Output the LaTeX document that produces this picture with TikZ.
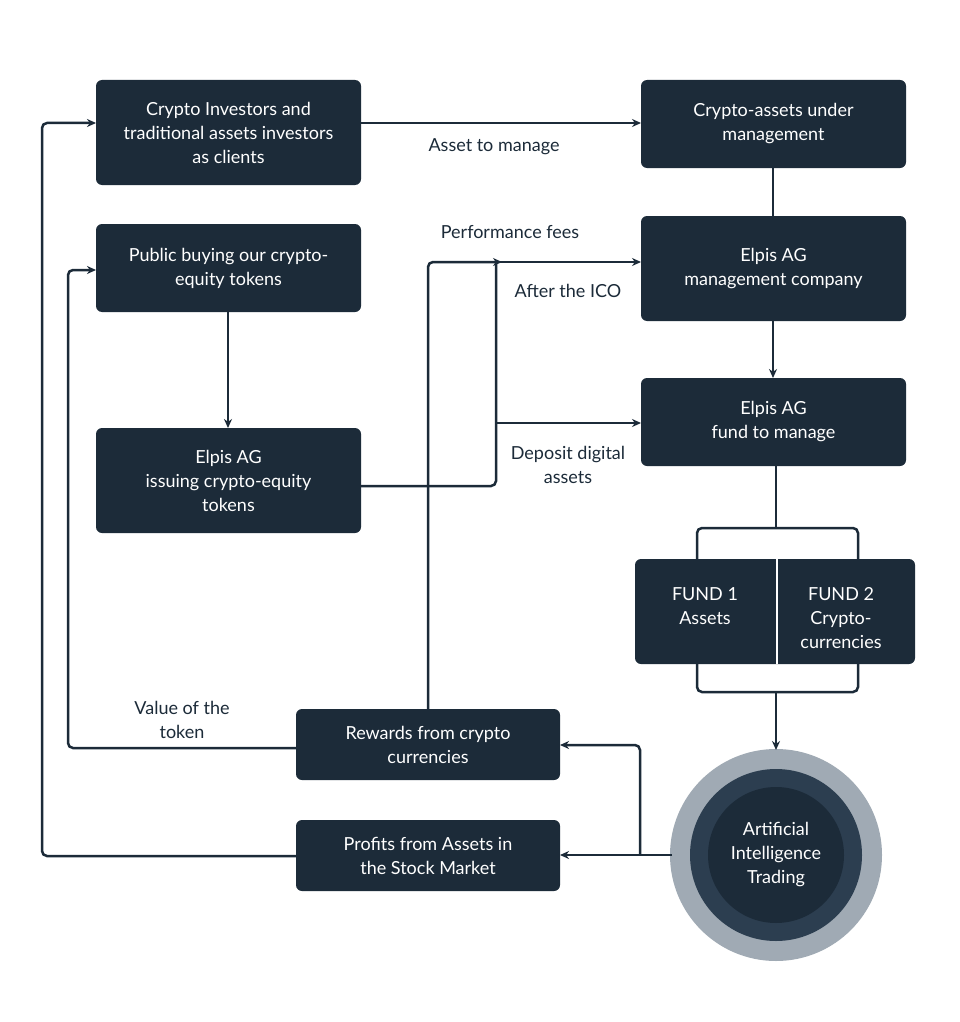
\documentclass[tikz,border=0pt]{standalone}
\usepackage{fontspec}
\setmainfont{Lato}
\usetikzlibrary{arrows.meta}
\definecolor{nv}{HTML}{1C2B39}
\definecolor{ring}{HTML}{2C3E50}
\definecolor{gr}{HTML}{A0AAB4}
\begin{document}
\begin{tikzpicture}[x=1pt,y=-1pt,
  box/.style={fill=nv,rounded corners=6pt,text=white,align=center,font=\fontsize{18}{24}\selectfont},
  ln/.style={draw=nv,line width=2.5pt,rounded corners=5pt},
  ar/.style={ln,-{Stealth[length=9pt,width=8pt]}},
  lb/.style={text=nv,align=center,font=\fontsize{18}{24}\selectfont}]
\useasboundingbox (0,0) rectangle (960,1022);
\fill[white] (0,0) rectangle (960,1022);
\newcommand{\bx}[6]{\fill[nv,rounded corners=6pt] (#2,#3) rectangle (#4,#5); \node[box,fill=none] (#1) at ({(#2+#4)/2},{(#3+#5)/2}) {#6};
 \coordinate (#1-nw) at (#2,#3); \coordinate (#1-se) at (#4,#5);}
\bx{A}{96}{80}{361}{185}{Crypto Investors and\\traditional assets investors\\as clients}
\bx{B}{641}{80}{906}{168}{Crypto-assets under\\management}
\bx{C}{96}{224}{361}{312}{Public buying our crypto-\\equity tokens}
\bx{D}{641}{216}{906}{321}{Elpis AG\\management company}
\bx{E}{641}{378}{906}{466}{Elpis AG\\fund to manage}
\bx{F}{96}{428}{361}{533}{Elpis AG\\issuing crypto-equity\\tokens}
\fill[nv,rounded corners=6pt] (635,559) rectangle (915,664);
\draw[white,line width=2.5pt] (777,559) -- (777,664);
\node[box,fill=none] (F1) at (705,606) {FUND 1\\Assets};
\node[box,fill=none] (F2) at (841,618) {FUND 2\\Crypto-\\currencies};
\bx{R}{296}{709}{560}{780}{Rewards from crypto\\currencies}
\bx{P}{296}{820}{560}{891}{Profits from Assets in\\the Stock Market}
\fill[gr] (776,855) circle (106);
\fill[ring] (776,855) circle (86);
\node[circle,fill=nv,minimum size=136pt,inner sep=0pt,text=white,align=center,font=\fontsize{18}{24}\selectfont] (AI) at (776,855) {Artificial\\Intelligence\\Trading};
% connectors
\draw[ar] (A.east|-0,123) -- (641,123);
\node[lb] (l1) at (494,147) {Asset to manage};
\draw[ln] (773,168) -- (773,216);
\draw[ar] (773,321) -- (773,378);
\draw[ar] (228,312) -- (228,428);
\draw[ln] (361,486) -- (496,486) -- (496,260);
\draw[ar] (496,262) -- (641,262);
\draw[ar] (496,423) -- (641,423);
\node[lb] (l2) at (568,291) {After the ICO};
\node[lb] (l3) at (568,465) {Deposit digital\\assets};
\draw[ar] (428,709) -- (428,262) -- (502,262);
\node[lb] (l4) at (510,232) {Performance fees};
\coordinate (t1) at (776,528);
\draw[ln] (776,466) -- (t1);
\draw[ln] (697,559) -- (697,528) -- (858,528) -- (858,559);
\draw[ln] (697,664) -- (697,692) -- (858,692) -- (858,664);
\draw[ar] (776,692) -- (AI.north|-0,750);
\draw[ar] (672,855) -- (560,855);
\draw[ar] (640,855) -- (640,745) -- (560,745);
\draw[ar] (296,748) -- (68,748) -- (68,270) -- (96,270);
\node[lb] (l5) at (182,720) {Value of the\\token};
\draw[ar] (296,856) -- (42,856) -- (42,123) -- (96,123);
\end{tikzpicture}
\end{document}
